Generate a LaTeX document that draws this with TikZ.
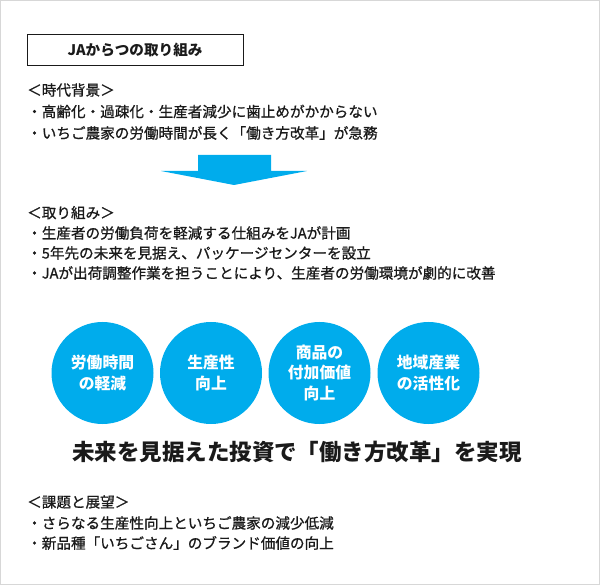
\documentclass[tikz,border=0pt]{standalone}
\usepackage{fontspec}
\setmainfont{Noto Sans CJK JP}
\newfontfamily\jpm{Noto Sans CJK JP}[FakeBold=0.9]
\definecolor{jablue}{RGB}{0,172,236}
\definecolor{txt}{RGB}{26,26,26}
\definecolor{frame}{RGB}{215,215,215}
\begin{document}
\begin{tikzpicture}[x=1pt,y=-1pt,
  line/.style={anchor=west,inner sep=0pt,text=txt,font=\jpm\fontsize{14.6}{16}\selectfont},
  circ/.style={circle,fill=jablue,minimum size=102pt,inner sep=0pt,text=white,align=center,
    font=\fontsize{15.8}{20.5}\selectfont\bfseries},
]
\useasboundingbox (0,0) rectangle (600,585);
\draw[frame,line width=1.2pt] (0.6,0.6) rectangle (599.4,584.4);
% title
\node[draw=txt,line width=0.9pt,minimum width=216pt,minimum height=31pt,inner sep=0pt,
  text=txt,font=\fontsize{14.6}{16}\selectfont\bfseries] (title) at (135,49.5) {JAからつの取り組み};
% block 1
\node[line] (b1h) at (27,90) {＜時代背景＞};
\node[line] (b1a) at (27,111.5) {・高齢化・過疎化・生産者減少に歯止めがかからない};
\node[line] (b1b) at (27,133) {・いちご農家の労働時間が長く「働き方改革」が急務};
% arrow
\fill[jablue] (198,155) -- (271,155) -- (271,171) -- (307,171) -- (234,185) -- (161,171) -- (198,171) -- cycle;
% block 2
\node[line] (b2h) at (27,212.7) {＜取り組み＞};
\node[line] (b2a) at (27,233) {・生産者の労働負荷を軽減する仕組みをJAが計画};
\node[line] (b2b) at (27,253) {・5年先の未来を見据え、パッケージセンターを設立};
\node[line] (b2c) at (27,273) {・JAが出荷調整作業を担うことにより、生産者の労働環境が劇的に改善};
% circles
\node[circ] (c1) at (102.5,373) {労働時間\\の軽減};
\node[circ] (c2) at (211,373) {生産性\\向上};
\node[circ] (c3) at (319.5,373) {商品の\\付加価値\\向上};
\node[circ] (c4) at (428.5,373) {地域産業\\の活性化};
% big message
\node[inner sep=0pt,text=txt,font=\fontsize{22.5}{24}\selectfont\bfseries] (msg) at (297,452) {未来を見据えた投資で「働き方改革」を実現};
% block 3
\node[line] (b3h) at (27,502) {＜課題と展望＞};
\node[line] (b3a) at (27,523) {・さらなる生産性向上といちご農家の減少低減};
\node[line] (b3b) at (27,543) {・新品種「いちごさん」のブランド価値の向上};
\end{tikzpicture}
\end{document}
